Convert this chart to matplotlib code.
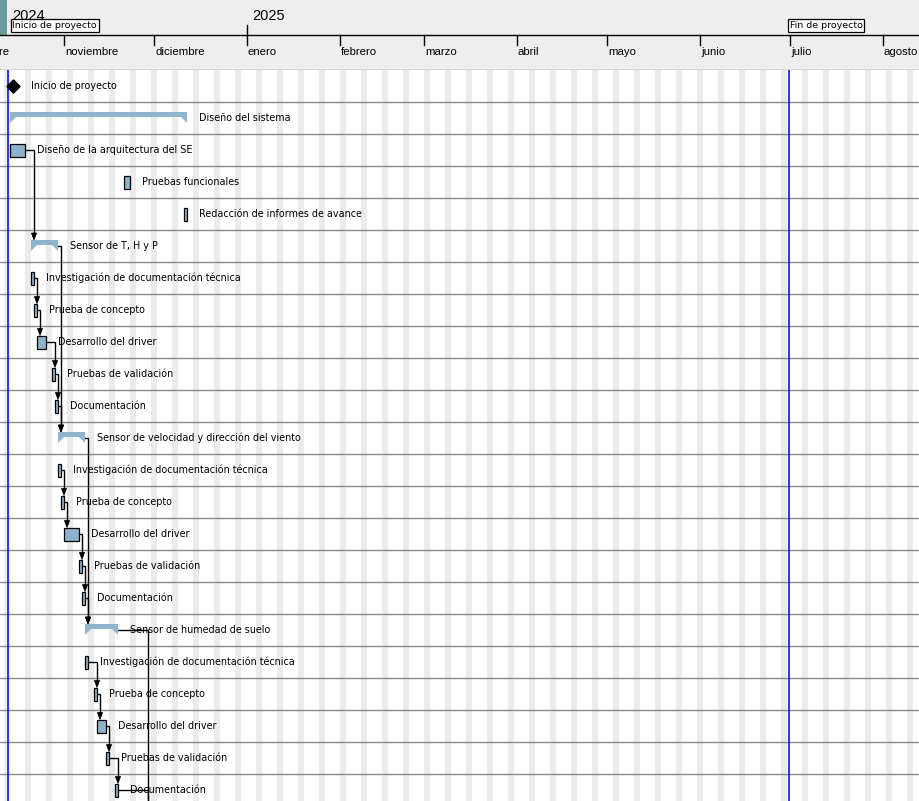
import matplotlib
matplotlib.use("Agg")
import matplotlib.pyplot as plt
import matplotlib.dates as mdates
import matplotlib.transforms as mtransforms
from matplotlib.patches import Polygon, Rectangle
import datetime as dt

# ---------------- data ----------------
task_names = [
    "Inicio de proyecto",
    "Diseño del sistema",
    "Diseño de la arquitectura del SE",
    "Pruebas funcionales",
    "Redacción de informes de avance",
    "Sensor de T, H y P",
    "Investigación de documentación técnica",
    "Prueba de concepto",
    "Desarrollo del driver",
    "Pruebas de validación",
    "Documentación",
    "Sensor de velocidad y dirección del viento",
    "Investigación de documentación técnica",
    "Prueba de concepto",
    "Desarrollo del driver",
    "Pruebas de validación",
    "Documentación",
    "Sensor de humedad de suelo",
    "Investigación de documentación técnica",
    "Prueba de concepto",
    "Desarrollo del driver",
    "Pruebas de validación",
    "Documentación",
]
task_starts = [
    "2024-10-14", "2024-10-14", "2024-10-14", "2024-11-21", "2024-12-11",
    "2024-10-21", "2024-10-21", "2024-10-22", "2024-10-23", "2024-10-28", "2024-10-29",
    "2024-10-30", "2024-10-30", "2024-10-31", "2024-11-01", "2024-11-06", "2024-11-07",
    "2024-11-08", "2024-11-08", "2024-11-11", "2024-11-12", "2024-11-15", "2024-11-18",
]
task_days = [
    0, 59, 5, 2, 1,
    9, 1, 1, 3, 1, 1,
    9, 1, 1, 5, 1, 1,
    11, 1, 1, 3, 1, 1,
]
task_kinds = [
    "milestone", "summary", "task", "task", "task",
    "summary", "task", "task", "task", "task", "task",
    "summary", "task", "task", "task", "task", "task",
    "summary", "task", "task", "task", "task", "task",
]
# dependencies (predecessor row, successor row); row 23 is a task below the view
next_hidden_start = "2024-11-28"
link_from = [2, 5, 11, 17, 6, 7, 8, 9, 10, 12, 13, 14, 15, 16, 18, 19, 20, 21, 22]
link_to   = [5, 11, 17, 23, 7, 8, 9, 10, 11, 13, 14, 15, 16, 17, 19, 20, 21, 22, 23]

month_names = ["octubre", "noviembre", "diciembre", "enero", "febrero", "marzo",
               "abril", "mayo", "junio", "julio", "agosto"]
month_starts = ["2024-10-01", "2024-11-01", "2024-12-01", "2025-01-01", "2025-02-01",
                "2025-03-01", "2025-04-01", "2025-05-01", "2025-06-01", "2025-07-01",
                "2025-08-01"]
year_labels = ["2024", "2025"]
year_start_2025 = "2025-01-01"
header_milestones = ["Inicio de proyecto", "Fin de proyecto"]
header_milestone_dates = ["2024-10-14", "2025-06-30"]
project_line_dates = ["2024-10-13 08:00", "2025-06-30 16:00"]

view_start = "2024-10-10 16:00"
view_end = "2025-08-13"

# ---------------- helpers ----------------
def d(s):
    return mdates.date2num(dt.datetime.fromisoformat(s))

W, H = 919, 801
HEAD = 70
ROW = 32.0
PX = 1.0 / 3.0        # days per pixel
RY = 1.0 / ROW        # rows per pixel

BAR_C = "#8db3cc"
SUM_C = "#8fb5cd"
WEEKEND_C = "#ebebeb"
GRID_C = "#8a8a8a"
HEAD_BG = "#eeeeee"

fig = plt.figure(figsize=(W / 100, H / 100), dpi=100)
fig.patch.set_facecolor("white")

x0, x1 = d(view_start), d(view_end)

# ---------- header ----------
hax = fig.add_axes([0, 1 - HEAD / H, 1, HEAD / H])
hax.set_xlim(x0, x1)
hax.set_ylim(HEAD, 0)
hax.axis("off")
blend = mtransforms.blended_transform_factory(hax.transAxes, hax.transData)
hax.add_patch(Rectangle((0, 0), 1, 1, transform=hax.transAxes, fc=HEAD_BG, ec="none", zorder=0))
hax.add_patch(Rectangle((0, 0), 7 / W, 36, transform=blend, fc="#6b9d9d", ec="none", zorder=1))
hax.axhline(35, color="black", lw=1.0, zorder=2)
hax.plot([d(year_start_2025)] * 2, [25, 35], color="black", lw=1.0, zorder=2)
year_font = dict(family="Liberation Sans", size=10.5, color="black")
hax.text(12 / W, 20.5, year_labels[0], transform=blend, va="baseline", ha="left",
         zorder=2, **year_font)
hax.annotate(year_labels[1], xy=(d(year_start_2025), 20.5), xytext=(5, 0),
             textcoords="offset pixels", va="baseline", ha="left", zorder=2, **year_font)
for name, ms in zip(month_names, month_starts):
    xm = d(ms)
    hax.plot([xm, xm], [35, 45], color="black", lw=1.0, zorder=2)
    hax.annotate(name, xy=(xm, 55), xytext=(1, 0), textcoords="offset pixels",
                 va="baseline", ha="left", family="Liberation Sans", size=8.2,
                 color="black", zorder=2, annotation_clip=False)
for name, md in zip(header_milestones, header_milestone_dates):
    hax.annotate(name, xy=(d(md), 25.5), xytext=(2.5, 0), textcoords="offset pixels",
                 va="center", ha="left", family="DejaVu Sans", size=6.8, color="black",
                 zorder=5,
                 bbox=dict(boxstyle="square,pad=0.2", fc="white", ec="black", lw=0.9))
hax.axhline(HEAD - 0.5, color="#d0d0d0", lw=1.2, zorder=3)

# ---------- main chart ----------
ax = fig.add_axes([0, 0, 1, (H - HEAD) / H])
ax.set_xlim(x0, x1)
ax.set_ylim(-0.5 + (H - HEAD) / ROW, -0.5)
ax.axis("off")

# weekend stripes (Saturday + Sunday)
day = dt.date.fromisoformat(view_start[:10])
end_day = dt.date.fromisoformat(view_end)
while day <= end_day:
    if day.weekday() == 5:
        xs = mdates.date2num(day)
        ax.axvspan(xs, xs + 2, color=WEEKEND_C, lw=0, zorder=0)
    day += dt.timedelta(days=1)

# row separators
for i in range(len(task_names)):
    ax.axhline(i + 0.5, color=GRID_C, lw=1.0, zorder=1)

# project lines
for ld in project_line_dates:
    ax.axvline(d(ld), color="#0000ee", lw=1.1, zorder=2)

starts = [d(s) for s in task_starts]
ends = [s + n for s, n in zip(starts, task_days)]

# dependencies
def top_of(row):
    if row >= len(task_names):
        return row - 6.5 * RY
    return row - (6 * RY if task_kinds[row] == "summary" else 6.5 * RY)

for a, b in zip(link_from, link_to):
    sb = starts[b] if b < len(starts) else d(next_hidden_start)
    xa = sb + 3 * PX
    tip = top_of(b)
    ax.plot([ends[a], xa, xa], [a, a, tip - 5 * RY], color="black", lw=1.0,
            zorder=3, solid_joinstyle="miter")
    ax.add_patch(Polygon([(xa - 2.6 * PX, tip - 7 * RY), (xa + 2.6 * PX, tip - 7 * RY),
                          (xa, tip)], closed=True, fc="black", ec="black", lw=0.5, zorder=4))

# bars
for i, (nm, s, e, k) in enumerate(zip(task_names, starts, ends, task_kinds)):
    if k == "milestone":
        xc = s + 3 * PX
        ax.plot([xc], [i], marker=(4, 0, 0), markersize=9.5, color="black", zorder=5)
        ax.annotate(nm, xy=(xc, i), xytext=(18, 0), textcoords="offset pixels",
                    va="center", ha="left", family="DejaVu Sans", size=6.9, zorder=6)
        continue
    if k == "summary":
        poly = [(s, i - 6 * RY), (e, i - 6 * RY), (e, i + 5 * RY),
                (e - 6 * PX, i - 1 * RY), (s + 6 * PX, i - 1 * RY), (s, i + 5 * RY)]
        ax.add_patch(Polygon(poly, closed=True, fc=SUM_C, ec="none", zorder=5))
    else:
        ax.add_patch(Rectangle((s, i - 6.5 * RY), e - s, 13 * RY, fc=BAR_C,
                               ec="black", lw=0.9, zorder=5))
    ax.annotate(nm, xy=(e, i), xytext=(12, 0), textcoords="offset pixels",
                va="center", ha="left", family="DejaVu Sans", size=6.9, zorder=6)

fig.savefig("out.png", dpi=100)
